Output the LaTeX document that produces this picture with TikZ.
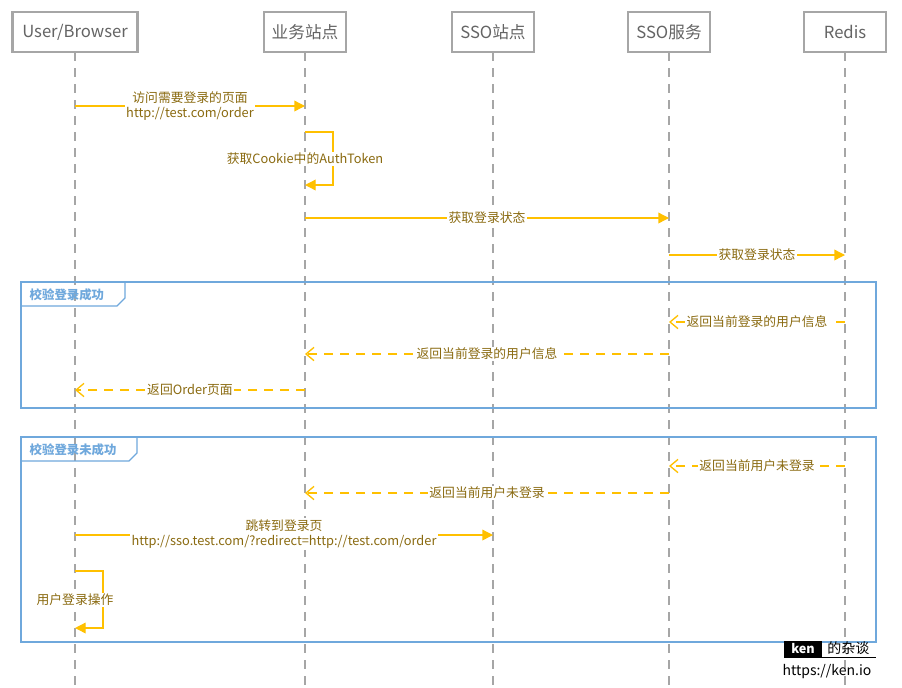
\documentclass[tikz,border=0pt]{standalone}
\usepackage{fontspec}
\setmainfont{Noto Sans CJK SC}
\usetikzlibrary{arrows.meta}
\definecolor{amb}{HTML}{FFC000}
\definecolor{txt}{HTML}{8A6A10}
\definecolor{frm}{HTML}{6FA8DC}
\definecolor{gr}{HTML}{A6A6A6}
\begin{document}
\begin{tikzpicture}[x=0.75pt,y=-0.75pt,
 actor/.style={draw=gr,line width=2pt,fill=white,minimum height=30pt,font=\fontsize{12.5}{14}\selectfont,text=gr!60!black,inner sep=0pt},
 life/.style={gr,line width=1pt,dash pattern=on 7pt off 5pt},
 msg/.style={amb,line width=1pt,-{Triangle[length=8pt,width=8pt]}},
 ret/.style={amb,line width=1pt,dash pattern=on 7pt off 5pt,-{Straight Barb[length=6pt,width=10pt]}},
 lab/.style={fill=white,text=txt,font=\fontsize{9.6}{11.5}\selectfont,inner sep=1pt,align=center},
 frame/.style={draw=frm,line width=1pt},
 ftab/.style={text=frm,font=\bfseries\fontsize{9.3}{11}\selectfont}]
\useasboundingbox (0,0) rectangle (902,687);
\foreach \n/\x/\w/\t in {u/75/125/User\slash Browser, b/305/82/业务站点, s/493/82/SSO站点, v/669/82/SSO服务, r/845/82/Redis}{
  \coordinate (\n bot) at (\x,687);
  \draw[life] (\x,52) -- (\n bot);
  \node[actor,minimum width=\w*0.75pt] (\n) at (\x,32) {\t};
}
% frames
\draw[frame] (21,282) rectangle (876,408);
\draw[frame] (21,306) -- (117,306) -- (125,298) -- (125,282);
\node[ftab,anchor=west] (f1) at (25,295) {校验登录成功};
\draw[frame] (21,437) rectangle (876,642);
\draw[frame] (21,461) -- (129,461) -- (137,453) -- (137,437);
\node[ftab,anchor=west] (f2) at (25,450) {校验登录未成功};
% messages
\coordinate (a1) at (75,106); \coordinate (a2) at (305,106);
\draw[msg] (a1) -- (a2);
\node[lab] (l1) at (190,106) {访问需要登录的页面\\http://test.com/order};
\coordinate (c1) at (305,132); \coordinate (c2) at (305,185);
\draw[msg] (c1) -- (333,132) -- (333,185) -- (c2);
\node[lab] (l2) at (305,159) {获取Cookie中的AuthToken};
\coordinate (d1) at (305,218); \coordinate (d2) at (669,218);
\draw[msg] (d1) -- (d2);
\node[lab] (l3) at (487,218) {获取登录状态};
\coordinate (e1) at (669,255); \coordinate (e2) at (845,255);
\draw[msg] (e1) -- (e2);
\node[lab] (l4) at (757,255) {获取登录状态};
\coordinate (f1a) at (845,322); \coordinate (f2a) at (669,322);
\draw[ret] (f1a) -- (f2a);
\node[lab] (l5) at (757,322) {返回当前登录的用户信息};
\coordinate (g1) at (669,354); \coordinate (g2) at (305,354);
\draw[ret] (g1) -- (g2);
\node[lab] (l6) at (487,354) {返回当前登录的用户信息};
\coordinate (h1) at (305,390); \coordinate (h2) at (75,390);
\draw[ret] (h1) -- (h2);
\node[lab] (l7) at (190,390) {返回Order页面};
\coordinate (i1) at (845,466); \coordinate (i2) at (669,466);
\draw[ret] (i1) -- (i2);
\node[lab] (l8) at (757,466) {返回当前用户未登录};
\coordinate (j1) at (669,493); \coordinate (j2) at (305,493);
\draw[ret] (j1) -- (j2);
\node[lab] (l9) at (487,493) {返回当前用户未登录};
\coordinate (k1) at (75,535); \coordinate (k2) at (493,535);
\draw[msg] (k1) -- (k2);
\node[lab] (l10) at (284,534) {跳转到登录页\\http://sso.test.com/?redirect=http://test.com/order};
\coordinate (m1) at (75,571); \coordinate (m2) at (75,628);
\draw[msg] (m1) -- (103,571) -- (103,628) -- (m2);
\node[lab] (l11) at (75,600) {用户登录操作};
% watermark
\node[fill=black,text=white,font=\bfseries\fontsize{9.5}{11}\selectfont,minimum width=38*0.75pt,minimum height=16*0.75pt,inner sep=0pt] (k) at (803,649) {ken};
\node[anchor=west,font=\fontsize{10.5}{12}\selectfont,inner sep=0pt] (z) at (827,648) {的杂谈};
\draw[black,line width=0.7pt] (784,657) -- (876,657);
\node[font=\fontsize{10.5}{12}\selectfont,inner sep=0pt] (url) at (827,672) {https://ken.io};
\end{tikzpicture}
\end{document}
